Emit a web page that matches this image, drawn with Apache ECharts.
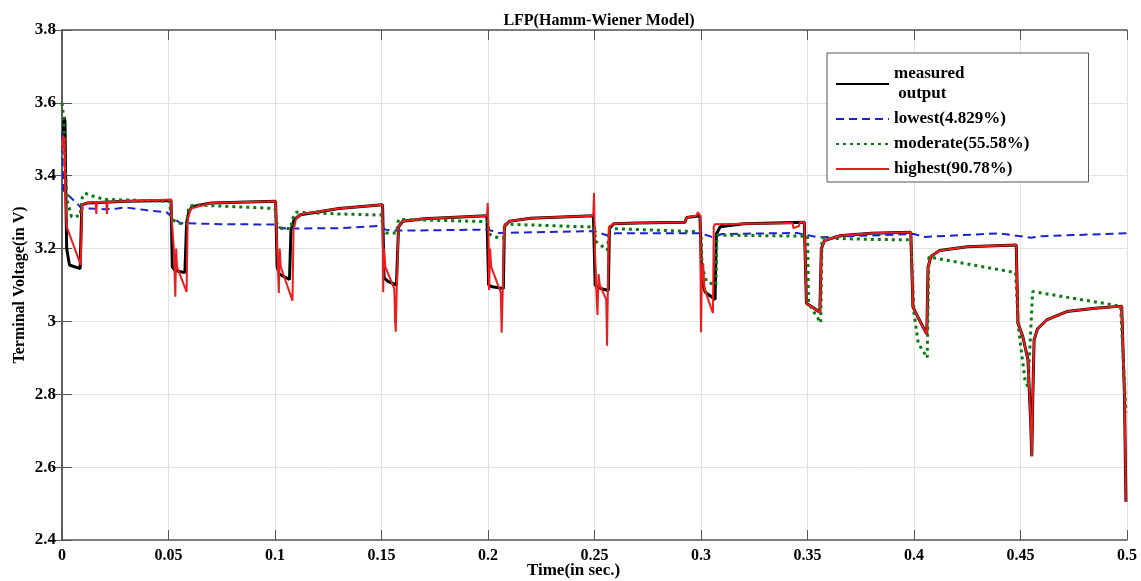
<!DOCTYPE html>
<html>
<head>
<meta charset="utf-8">
<script src="https://cdn.jsdelivr.net/npm/echarts@6/dist/echarts.min.js"></script>
<style>
  html, body { margin: 0; padding: 0; background: #fff; }
  #chart { width: 1141px; height: 581px; }
</style>
</head>
<body>
<div id="chart"></div>
<script>
// [time (s), voltage (V)]
var measured = [
  [0.0005,3.50],[0.001,3.56],[0.0014,3.55],[0.0018,3.35],[0.0022,3.20],[0.0035,3.155],[0.0085,3.145],[0.0093,3.32],[0.012,3.325],[0.03,3.33],[0.0512,3.332],
  [0.0518,3.15],[0.053,3.14],[0.0577,3.134],[0.0585,3.27],[0.0595,3.30],[0.061,3.315],[0.07,3.325],[0.1003,3.33],
  [0.101,3.15],[0.102,3.13],[0.1068,3.115],[0.1075,3.25],[0.109,3.28],[0.112,3.293],[0.13,3.31],[0.1505,3.32],
  [0.1512,3.12],[0.153,3.11],[0.157,3.10],[0.158,3.26],[0.16,3.275],[0.17,3.282],[0.1995,3.29],
  [0.2003,3.10],[0.202,3.095],[0.2072,3.09],[0.2077,3.26],[0.21,3.275],[0.22,3.283],[0.2495,3.29],
  [0.2503,3.10],[0.252,3.092],[0.2565,3.085],[0.257,3.255],[0.259,3.268],[0.27,3.27],[0.2925,3.272],[0.2932,3.285],[0.2995,3.29],
  [0.3004,3.11],[0.302,3.08],[0.3066,3.06],[0.3072,3.24],[0.309,3.26],[0.32,3.268],[0.3485,3.272],
  [0.3495,3.05],[0.352,3.04],[0.3558,3.025],[0.3565,3.20],[0.358,3.222],[0.365,3.235],[0.38,3.242],[0.3985,3.245],
  [0.3995,3.04],[0.402,3.01],[0.406,2.965],[0.4066,3.15],[0.408,3.178],[0.412,3.195],[0.425,3.205],[0.448,3.21],
  [0.4488,2.995],[0.451,2.96],[0.4535,2.895],[0.4548,2.72],[0.4553,2.63],[0.4558,2.80],[0.4564,2.95],[0.458,2.98],[0.4623,3.004],[0.4717,3.027],[0.485,3.036],[0.4975,3.042],[0.4988,2.80],[0.4995,2.505]
];

var lowest = [
  [0,3.52],[0.0006,3.36],[0.0037,3.342],[0.0069,3.325],[0.009,3.311],[0.02,3.308],[0.026,3.31],[0.03,3.313],[0.04,3.305],[0.049,3.30],
  [0.0525,3.283],[0.0554,3.27],[0.075,3.267],[0.1,3.266],[0.102,3.258],[0.105,3.255],[0.13,3.256],[0.148,3.262],[0.152,3.252],[0.155,3.249],
  [0.2,3.252],[0.205,3.243],[0.25,3.248],[0.256,3.236],[0.26,3.242],[0.3,3.242],[0.305,3.232],[0.31,3.24],[0.345,3.243],[0.355,3.231],
  [0.36,3.232],[0.4,3.24],[0.405,3.232],[0.44,3.242],[0.455,3.23],[0.46,3.234],[0.5,3.242]
];

var moderate = [
  [0,3.60],[0.0008,3.56],[0.0015,3.42],[0.0025,3.33],[0.0045,3.287],[0.0085,3.29],[0.0095,3.34],[0.0108,3.352],[0.014,3.345],[0.02,3.335],[0.0505,3.33],
  [0.0515,3.28],[0.055,3.27],[0.0585,3.265],[0.0595,3.315],[0.062,3.32],[0.1,3.31],
  [0.1008,3.27],[0.103,3.255],[0.1075,3.255],[0.108,3.28],[0.11,3.30],[0.13,3.295],[0.15,3.292],
  [0.1508,3.25],[0.152,3.243],[0.157,3.243],[0.158,3.28],[0.2,3.274],
  [0.2005,3.24],[0.205,3.229],[0.2075,3.23],[0.208,3.267],[0.25,3.259],
  [0.2505,3.22],[0.256,3.196],[0.257,3.255],[0.3,3.246],
  [0.3005,3.15],[0.3026,3.109],[0.307,3.10],[0.3075,3.237],[0.35,3.234],
  [0.3505,3.05],[0.3562,2.996],[0.3568,3.229],[0.38,3.225],[0.3985,3.224],
  [0.4,3.023],[0.402,2.94],[0.4062,2.90],[0.407,3.177],[0.4477,3.134],
  [0.449,2.985],[0.4521,2.839],[0.4535,2.82],[0.4557,3.082],[0.497,3.042],[0.4995,2.75]
];

var highest = [
  [0.0002,3.47],[0.0006,3.51],[0.0012,3.50],[0.0016,3.35],[0.0022,3.26],[0.0088,3.155],[0.0094,3.32],[0.012,3.325],[0.0158,3.328],[0.0161,3.295],[0.0164,3.328],
  [0.0208,3.328],[0.0211,3.295],[0.0214,3.328],[0.03,3.33],[0.0512,3.335],
  [0.0515,3.28],[0.0525,3.20],[0.0532,3.068],[0.0536,3.20],[0.054,3.15],[0.0585,3.081],[0.059,3.28],[0.0605,3.31],[0.07,3.325],[0.1003,3.33],
  [0.1007,3.25],[0.1018,3.078],[0.1022,3.20],[0.1027,3.15],[0.1082,3.057],[0.1087,3.25],[0.11,3.285],[0.113,3.295],[0.13,3.31],[0.1505,3.32],
  [0.1508,3.08],[0.1512,3.20],[0.1518,3.15],[0.156,3.09],[0.1564,3.0],[0.1567,2.972],[0.1572,3.10],[0.158,3.26],[0.16,3.275],[0.17,3.282],[0.1995,3.29],
  [0.1999,3.325],[0.2002,3.25],[0.2005,3.086],[0.201,3.20],[0.2015,3.15],[0.206,3.08],[0.2064,2.969],[0.207,3.10],[0.2076,3.26],[0.21,3.275],[0.22,3.283],[0.2494,3.29],
  [0.2498,3.353],[0.2502,3.20],[0.2508,3.09],[0.2514,3.018],[0.2519,3.13],[0.2525,3.10],[0.2555,3.06],[0.2559,2.933],[0.2563,3.10],[0.2568,3.26],[0.259,3.268],[0.27,3.27],
  [0.2925,3.272],[0.2932,3.285],[0.2978,3.29],[0.2986,3.30],[0.2996,3.29],
  [0.3,2.97],[0.3004,3.12],[0.301,3.16],[0.3016,3.09],[0.3056,3.023],[0.306,3.26],[0.3065,3.267],[0.343,3.27],[0.3434,3.256],[0.346,3.262],[0.3464,3.272],[0.3485,3.272],
  [0.3495,3.05],[0.352,3.04],[0.3558,3.025],[0.3565,3.20],[0.358,3.222],[0.365,3.235],[0.38,3.242],[0.3985,3.245],
  [0.3995,3.04],[0.402,3.01],[0.406,2.965],[0.4066,3.15],[0.408,3.178],[0.412,3.195],[0.425,3.205],[0.448,3.21],
  [0.4488,2.995],[0.451,2.96],[0.4535,2.895],[0.4548,2.72],[0.4553,2.63],[0.4558,2.80],[0.4564,2.95],[0.458,2.98],[0.4623,3.004],[0.4717,3.027],[0.485,3.036],[0.4975,3.042],[0.4988,2.80],[0.4995,2.505]
];

var seriesNames = ['measured output', 'lowest(4.829%)', 'moderate(55.58%)', 'highest(90.78%)'];

var font = 'Liberation Serif';
var axisGray = '#555';

function lineSeries(name, data, color, width, type) {
  return {
    name: name, type: 'line', data: data,
    symbol: 'none', showSymbol: false, animation: false,
    lineStyle: { color: color, width: width, type: type, cap: 'butt' },
    itemStyle: { color: color }
  };
}

var myChart = echarts.init(document.getElementById('chart'));
myChart.setOption({
  backgroundColor: '#fff',
  animation: false,
  title: {
    text: 'LFP(Hamm-Wiener Model)', left: 594, top: 8, textAlign: 'center',
    textStyle: { fontFamily: font, fontWeight: 'bold', fontSize: 16, color: '#000' }
  },
  legend: {
    orient: 'vertical', left: 827, top: 53,
    padding: [11, 59, 3, 8], itemGap: 5,
    itemWidth: 53, itemHeight: 14,
    backgroundColor: '#fff', borderColor: axisGray, borderWidth: 1,
    itemStyle: { opacity: 0 },
    data: seriesNames,
    formatter: function (n) { return n === 'measured output' ? 'measured\n output' : n; },
    textStyle: { fontFamily: font, fontWeight: 'bold', fontSize: 17, color: '#000', lineHeight: 20 }
  },
  grid: { left: 62, right: 14, top: 30, bottom: 41, outerBoundsMode: 'none' },
  xAxis: [{
    type: 'value', min: 0, max: 0.5, interval: 0.05,
    name: 'Time(in sec.)', nameLocation: 'middle', nameGap: 22, nameMoveOverlap: false,
    nameTextStyle: { fontFamily: font, fontWeight: 'bold', fontSize: 17, color: '#000', padding: [0, 42, 0, 0] },
    axisLine: { show: true, lineStyle: { color: axisGray, width: 1.5 } },
    axisTick: { show: true, inside: true, length: 10, lineStyle: { color: axisGray } },
    axisLabel: { fontFamily: font, fontWeight: 'bold', fontSize: 16, color: '#000', margin: 8 },
    splitLine: { show: true, lineStyle: { color: '#e2e2e2', width: 1 } }
  }, {
    type: 'value', min: 0, max: 0.5, interval: 0.05, position: 'top',
    axisLine: { show: true, lineStyle: { color: axisGray, width: 1.5 } },
    axisTick: { show: true, inside: true, length: 10, lineStyle: { color: axisGray } },
    axisLabel: { show: false }, splitLine: { show: false }
  }],
  yAxis: [{
    type: 'value', min: 2.4, max: 3.8, interval: 0.2,
    name: 'Terminal Voltage(in V)', nameLocation: 'middle', nameGap: 34, nameMoveOverlap: false,
    nameTextStyle: { fontFamily: font, fontWeight: 'bold', fontSize: 16, color: '#000' },
    axisLine: { show: true, lineStyle: { color: axisGray, width: 1.5 } },
    axisTick: { show: true, inside: true, length: 10, lineStyle: { color: axisGray } },
    axisLabel: { fontFamily: font, fontWeight: 'bold', fontSize: 17, color: '#000', margin: 6 },
    splitLine: { show: true, lineStyle: { color: '#e2e2e2', width: 1 } }
  }, {
    type: 'value', min: 2.4, max: 3.8, interval: 0.2, position: 'right',
    axisLine: { show: true, lineStyle: { color: axisGray, width: 1.5 } },
    axisTick: { show: true, inside: true, length: 10, lineStyle: { color: axisGray } },
    axisLabel: { show: false }, splitLine: { show: false }
  }],
  series: [
    lineSeries(seriesNames[0], measured, '#000000', 3, 'solid'),
    lineSeries(seriesNames[1], lowest, '#1c22d0', 2, [8, 5]),
    lineSeries(seriesNames[2], moderate, '#0a7a12', 3, [3, 4]),
    lineSeries(seriesNames[3], highest, '#ee1c1c', 2, 'solid')
  ]
});
window.addEventListener('resize', function () { myChart.resize(); });
</script>
</body>
</html>
